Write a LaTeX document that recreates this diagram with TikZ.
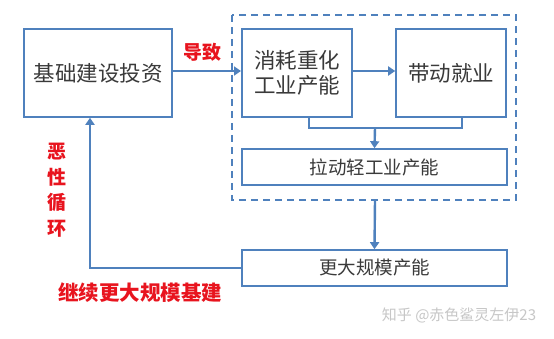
\documentclass[tikz,border=0pt]{standalone}
\usepackage{fontspec}
\setmainfont{Noto Sans CJK SC}
\newfontfamily\cjk{Noto Sans CJK SC}
\usetikzlibrary{arrows.meta}
\definecolor{ublue}{HTML}{4F81BD}
\definecolor{ured}{HTML}{E8141E}
\definecolor{utext}{HTML}{3A3A3A}
\tikzset{
  box/.style={draw=ublue,line width=1.6pt,fill=white,inner sep=0pt,text=utext,font=\fontsize{21.5}{25}\selectfont,align=center},
  conn/.style={draw=ublue,line width=2.4pt},
  arr/.style={conn,-{Triangle[length=7pt,width=9pt]}},
  redlab/.style={text=ured,font=\fontsize{19}{22}\selectfont\bfseries}
}
\begin{document}
\begin{tikzpicture}[x=1pt,y=-1pt]
\useasboundingbox (0,0) rectangle (554,339);
\fill[white] (0,0) rectangle (554,339);
% dashed group
\draw[ublue,line width=1.8pt,dash pattern=on 7pt off 5pt] (232,15) rectangle (516,200);
\node[box,minimum width=148pt,minimum height=88pt] (jc) at (98,73) {基础建设投资};
\node[box,minimum width=110pt,minimum height=88pt] (xh) at (297,73) {消耗重化\\工业产能};
\node[box,minimum width=110pt,minimum height=88pt] (dd) at (451,73) {带动就业};
\node[box,minimum width=265pt,minimum height=36pt,font=\fontsize{18.5}{21}\selectfont] (ld) at (374.5,167) {拉动轻工业产能};
\node[box,minimum width=265pt,minimum height=36pt,font=\fontsize{18.5}{21}\selectfont] (gd) at (374.5,268) {更大规模产能};
\coordinate (db) at (375,200);
\coordinate (mj) at (375,128);
% connectors
\draw[arr] (jc.east |- 0,71) -- (241,71);
\draw[arr] (xh.east |- 0,71) -- (dd.west |- 0,71);
\draw[conn,line width=1.6pt] (309,117) -- (309,128) -- (462,128) -- (462,117);
\draw[arr] (mj) -- (ld.north);
\draw[arr] (db) -- (gd.north);
\draw[arr] (gd.west) -- (90,268) -- (90,117.8);
% labels
\node[redlab] (dz) at (202,52) {导致};
\node[redlab,align=center,font=\fontsize{19}{25.5}\selectfont\bfseries] (ex) at (57,190) {恶\\性\\循\\环};
\node[redlab,font=\fontsize{20.5}{24}\selectfont\bfseries] (jx) at (140,293) {继续更大规模基建};
\node[text=black!22,font=\fontsize{15}{18}\selectfont] (wm) at (459,315) {知乎 @赤色鲨灵左伊23};
\end{tikzpicture}
\end{document}
